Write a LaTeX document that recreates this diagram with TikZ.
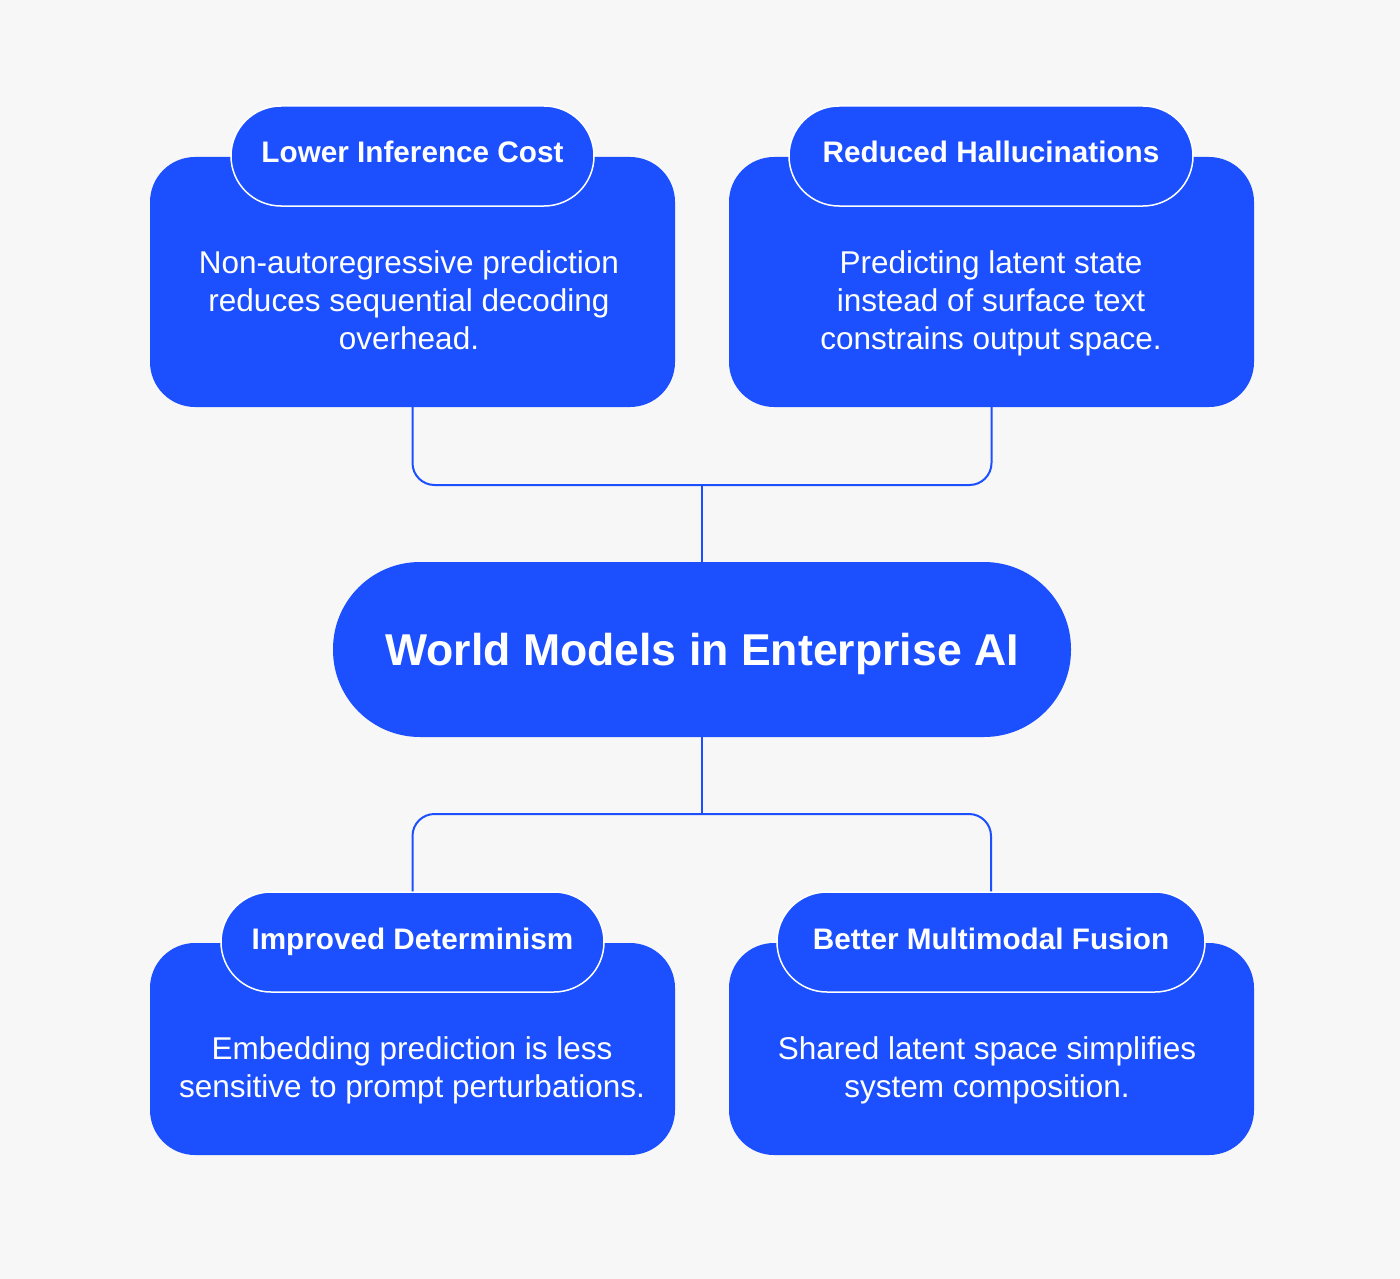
\documentclass[tikz,border=0pt]{standalone}
\usepackage{fontspec}
\setmainfont{Liberation Sans}
\definecolor{bg}{HTML}{F7F7F7}
\definecolor{blu}{HTML}{1C50FF}
\begin{document}
\begin{tikzpicture}[x=1pt,y=-1pt,
  body/.style={fill=blu, draw=none, rounded corners=45pt, inner sep=0pt},
  head/.style={fill=blu, draw=white, line width=1.5pt, inner sep=0pt, minimum height=100pt, rounded corners=50pt, text=white, text height=22pt, text depth=8pt, font=\bfseries\fontsize{29.7}{34}\selectfont},
  txt/.style={text=white, align=center, font=\fontsize{31.5}{38}\selectfont, inner sep=0pt},
  conn/.style={draw=blu, line width=2pt, rounded corners=22pt}]
\useasboundingbox (0,0) rectangle (1400,1279);
\fill[bg] (0,0) rectangle (1400,1279);
% bodies
\node[body, minimum width=525pt, minimum height=250pt] (b1) at (412.5,282) {};
\node[body, minimum width=525pt, minimum height=250pt] (b2) at (991.5,282) {};
\node[body, minimum width=525pt, minimum height=212pt] (b3) at (412.5,1049) {};
\node[body, minimum width=525pt, minimum height=212pt] (b4) at (991.5,1049) {};
% headers
\node[head, minimum width=363pt] (h1) at (412.5,156) {Lower Inference Cost};
\node[head, minimum width=404pt] (h2) at (991,156) {Reduced Hallucinations};
\node[head, minimum width=383pt] (h3) at (412.5,942) {Improved Determinism};
\node[head, minimum width=428pt] (h4) at (991,942) {Better Multimodal Fusion};
% texts
\node[txt] (t1) at (409,300) {Non-autoregressive prediction\\reduces sequential decoding\\overhead.};
\node[txt] (t2) at (991,303) {Predicting latent state\\instead of surface text\\constrains output space.};
\node[txt] (t3) at (412,1070) {Embedding prediction is less\\sensitive to prompt perturbations.};
\node[txt] (t4) at (987,1070) {Shared latent space simplifies\\system composition.};
% center
\node[fill=blu, rounded corners=87pt, minimum width=738pt, minimum height=175pt, inner sep=0pt, text=white, text height=32pt, text depth=0pt, font=\bfseries\fontsize{44.6}{54}\selectfont] (c) at (702,649.5) {World Models in Enterprise AI};
% connectors
\coordinate (jt) at (702,485);
\coordinate (jb) at (702,814);
\draw[conn] (b1.south) -- (b1.south |- jt) -- (b2.south |- jt) -- (b2.south);
\draw[conn] (jt) -- (c.north);
\draw[conn] (c.south) -- (jb);
\draw[conn] (h3.north) -- (h3.north |- jb) -- (h4.north |- jb) -- (h4.north);
\end{tikzpicture}
\end{document}
